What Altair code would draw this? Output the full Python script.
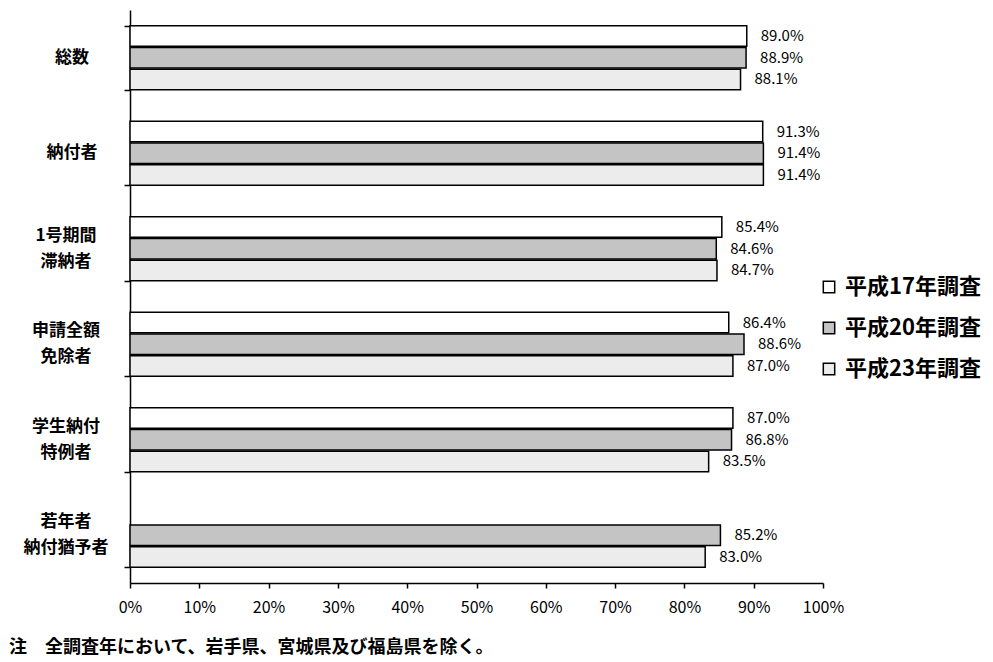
import altair as alt
import pandas as pd

categories = ["総数", "納付者", "1号期間\n滞納者", "申請全額\n免除者", "学生納付\n特例者", "若年者\n納付猶予者"]
series = ["平成17年調査", "平成20年調査", "平成23年調査"]
h17 = [89.0, 91.3, 85.4, 86.4, 87.0, None]
h20 = [88.9, 91.4, 84.6, 88.6, 86.8, 85.2]
h23 = [88.1, 91.4, 84.7, 87.0, 83.5, 83.0]
note = "注　全調査年において、岩手県、宮城県及び福島県を除く。"

rows = []
for i, c in enumerate(categories):
    for s, vals in zip(series, [h17, h20, h23]):
        v = vals[i]
        if v is not None:
            rows.append({"cat": c, "series": s, "value": v / 100.0})
df = pd.DataFrame(rows)
cat_df = pd.DataFrame({"cat": categories, "two": ["\n" in c for c in categories]})

FONT = "Noto Sans CJK JP"

y_scale = alt.Scale(domain=categories, paddingInner=0.33, paddingOuter=0.165)
y_enc = alt.Y("cat:N", sort=categories, title=None, scale=y_scale,
              axis=alt.Axis(labels=False, tickSize=6, tickBand="extent",
                            domainColor="black", tickColor="black", domainWidth=1.5, tickWidth=1.5))
x_enc = alt.X("value:Q", title=None,
              scale=alt.Scale(domain=[0, 1], nice=False),
              axis=alt.Axis(format=".0%", values=[i / 10 for i in range(11)], grid=False,
                            labelFlush=False,
                            labelFont=FONT, labelFontSize=16, labelColor="black",
                            labelPadding=11, tickSize=5, tickColor="black", tickWidth=1.5,
                            domainColor="black", domainWidth=1.5))
yoff = alt.YOffset("series:N", sort=series, scale=alt.Scale(paddingInner=0.05))

color = alt.Color("series:N", sort=series, title=None,
                  scale=alt.Scale(domain=series, range=["#ffffff", "#c4c4c4", "#ececec"]),
                  legend=alt.Legend(orient="none", legendX=688, legendY=266,
                                    symbolType="square", symbolSize=130,
                                    symbolStrokeColor="black", symbolStrokeWidth=1.5,
                                    labelFont=FONT, labelFontSize=22, labelFontWeight="bold",
                                    labelColor="black", rowPadding=19, labelOffset=5))

bars = alt.Chart(df).mark_bar(stroke="black", strokeWidth=1.5).encode(
    y=y_enc, x=x_enc, yOffset=yoff, color=color)

labels = alt.Chart(df).mark_text(align="left", baseline="middle", dx=14,
                                 font=FONT, fontSize=15, color="black").encode(
    y=alt.Y("cat:N", sort=categories, scale=y_scale), x="value:Q", yOffset=yoff,
    text=alt.Text("value:Q", format=".1%"))

cat_one = alt.Chart(cat_df).transform_filter("!datum.two").mark_text(
    align="center", baseline="middle", font=FONT, fontSize=17, fontWeight="bold",
    color="black").encode(
    y=alt.Y("cat:N", sort=categories, scale=y_scale), x=alt.value(-58), text="cat:N")

cat_two = alt.Chart(cat_df).transform_filter("datum.two").mark_text(
    align="center", baseline="middle", font=FONT, fontSize=17, fontWeight="bold",
    color="black", lineBreak="\n", lineHeight=26, dy=-13).encode(
    y=alt.Y("cat:N", sort=categories, scale=y_scale), x=alt.value(-64), text="cat:N")

foot = alt.Chart(pd.DataFrame({"t": [note]})).mark_text(
    align="left", baseline="middle", font=FONT, fontSize=18, fontWeight="bold",
    color="black").encode(
    x=alt.value(-121), y=alt.value(638), text="t:N")

chart = alt.layer(bars, labels, cat_one, cat_two, foot).properties(
    width=693, height=573,
    autosize=alt.AutoSizeParams(type="none"),
    padding={"left": 122, "top": 2, "right": 160, "bottom": 76},
).configure(background="white", view=alt.ViewConfig(stroke="transparent", strokeWidth=0))

chart.save("out.html", embed_options={"renderer": "svg", "actions": False})
